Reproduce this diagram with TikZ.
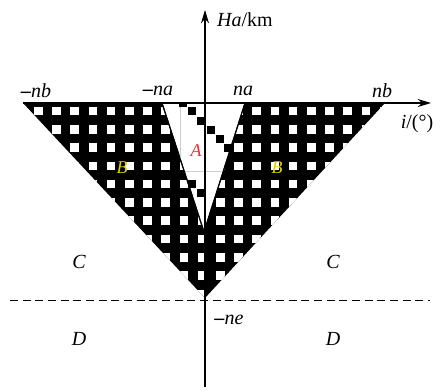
\documentclass[tikz,border=0pt]{standalone}
\usepackage{fontspec}
\setmainfont{Liberation Serif}
\usepackage{xcolor}
\definecolor{zonered}{RGB}{235,45,45}
\definecolor{zoneyellow}{RGB}{225,205,0}
\definecolor{gridgray}{RGB}{205,205,205}
\usetikzlibrary{arrows.meta}

\begin{document}
\begin{tikzpicture}[x=0.75pt,y=-0.75pt,
  axisline/.style={-{Stealth[length=10pt,width=6pt]},line width=0.8pt},
  bigtext/.style={font=\fontsize{15}{17}\selectfont,inner sep=0pt},
  zonelabel/.style={font=\fontsize{15}{17}\selectfont\itshape,inner sep=0pt},
  smallzone/.style={font=\fontsize{13.5}{15}\selectfont\itshape,inner sep=0pt}
]
  \useasboundingbox (0,0) rectangle (440,391);
  % Corners
  \coordinate (nbl) at (23,103);
  \coordinate (nbr) at (385,103);
  \coordinate (apex) at (205,298);
  \coordinate (nal) at (162,103);
  \coordinate (nar) at (245,103);
  \coordinate (tip) at (204,232);
  \coordinate (xend) at (431,103);
  \coordinate (ytop) at (205,10);
  \coordinate (ybot) at (205,387);
  \coordinate (dl) at (10,300);
  \coordinate (dr) at (430,300);
  % Zone B: black with white holes
  \fill (nbl) -- (nbr) -- (apex) -- cycle;
  \begin{scope}
    \clip (nbl) -- (nbr) -- (apex) -- cycle;
    \foreach \i in {-10,...,11}
      \foreach \j in {0,...,10}
        \fill[white] ({202+18.2*\i-4.3},{111+18.3*\j-4.3}) rectangle +(8.6,8.6);
  \end{scope}
  % Zone A
  \filldraw[fill=white,line width=0.8pt] (nal) -- (nar) -- (tip) -- cycle;
  \begin{scope}
    \clip (nal) -- (nar) -- (tip) -- cycle;
    \draw[gridgray,line width=0.4pt] (180,103) -- (180,172);
    \draw[gridgray,line width=0.4pt] (160,171) -- (250,171);
    \foreach \x/\y in {183/103,192/111,201/121,211/130,220/139,228/148,192/184,201/193}
      \fill ({\x-4},{\y-4}) rectangle +(8,8);
  \end{scope}
  \draw[line width=0.8pt] (nal) -- (tip) -- (nar);
  % Axes
  \draw[axisline] (nbl) -- (xend);
  \draw[axisline] (ybot) -- (ytop);
  \draw[dashed,dash pattern=on 6pt off 3.5pt,line width=0.7pt] (dl) -- (dr);
  % Axis labels
  \node[bigtext] (ylab) at (245,20) {\textit{Ha}/km};
  \node[bigtext] (xlab) at (417,124) {\textit{i}/(°)};
  \node[bigtext] (lnb) at (36,91) {\textbf{–}\textit{nb}};
  \node[bigtext] (lna) at (158,91) {\textbf{–}\textit{na}};
  \node[bigtext] (rna) at (243,91) {\textit{na}};
  \node[bigtext] (rnb) at (382,91) {\textit{nb}};
  \node[bigtext] (lne) at (229,320) {\textbf{–}\textit{ne}};
  % Zone labels
  \node[smallzone,text=zonered] (za) at (196,151) {A};
  \node[smallzone,text=zoneyellow] (zbl) at (122,168) {B};
  \node[smallzone,text=zoneyellow] (zbr) at (277,168) {B};
  \node[zonelabel] (zcl) at (79,262) {C};
  \node[zonelabel] (zcr) at (333,262) {C};
  \node[zonelabel] (zdl) at (79,339) {D};
  \node[zonelabel] (zdr) at (333,339) {D};
\end{tikzpicture}
\end{document}
